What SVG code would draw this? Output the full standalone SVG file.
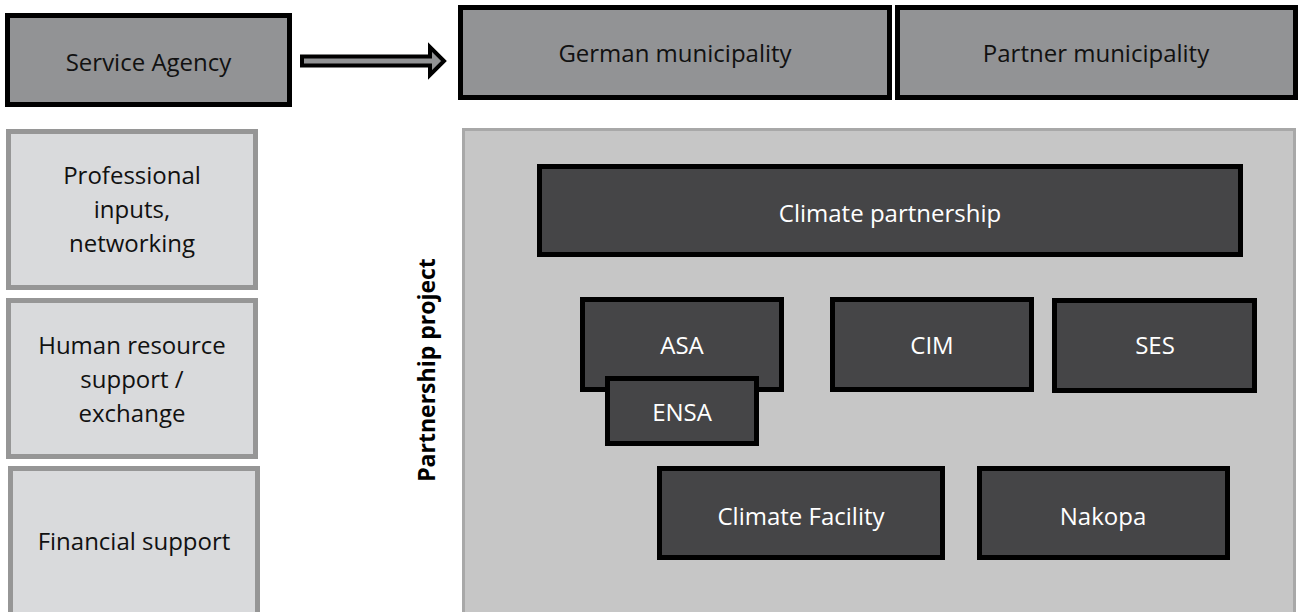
<svg xmlns="http://www.w3.org/2000/svg" width="1299" height="612" viewBox="0 0 1299 612">
<style>
text{font-family:"Open Sans","Liberation Sans",sans-serif;font-size:24px;text-anchor:middle}
.top rect{fill:#929395;stroke:#000;stroke-width:5}
.top text{fill:#111}
.side rect{fill:#d9dadc;stroke:#969696;stroke-width:5}
.side text{fill:#111}
.dark rect{fill:#454547;stroke:#000;stroke-width:5}
.dark text{fill:#fff}
</style>
<rect width="1299" height="612" fill="#fff"/>
<g id="panel">
<rect x="463.5" y="129.5" width="831" height="490" fill="#c6c6c6" stroke="#a8a8a8" stroke-width="3"/>
<text transform="translate(435,370) rotate(-90)" style="font-weight:bold;font-size:23px" fill="#000">Partnership project</text>
</g>
<g id="service-agency" class="top"><rect x="7.5" y="15.5" width="282" height="89"/><text x="148.5" y="71">Service Agency</text></g>
<g id="german-municipality" class="top"><rect x="460.5" y="7.5" width="429" height="90"/><text x="675" y="62">German municipality</text></g>
<g id="partner-municipality" class="top"><rect x="897.5" y="7.5" width="398" height="90"/><text x="1096" y="62">Partner municipality</text></g>
<g id="professional" class="side"><rect x="8.5" y="131.5" width="247" height="156"/><text x="132" y="184">Professional</text><text x="132" y="218">inputs,</text><text x="132" y="252">networking</text></g>
<g id="human-resource" class="side"><rect x="8.5" y="300.5" width="247" height="156"/><text x="132" y="354">Human resource</text><text x="132" y="388">support /</text><text x="132" y="422">exchange</text></g>
<g id="financial" class="side"><rect x="10.5" y="468.5" width="247" height="160"/><text x="134" y="550">Financial support</text></g>
<g id="climate-partnership" class="dark"><rect x="539.5" y="166.5" width="701" height="88"/><text x="890" y="222">Climate partnership</text></g>
<g id="asa" class="dark"><rect x="582.5" y="299.5" width="199" height="90"/><text x="682" y="354">ASA</text></g>
<g id="ensa" class="dark"><rect x="607.5" y="378.5" width="149" height="65"/><text x="682" y="421">ENSA</text></g>
<g id="cim" class="dark"><rect x="832.5" y="299.5" width="199" height="90"/><text x="932" y="354">CIM</text></g>
<g id="ses" class="dark"><rect x="1054.5" y="300.5" width="200" height="90"/><text x="1155" y="354">SES</text></g>
<g id="climate-facility" class="dark"><rect x="659.5" y="468.5" width="283" height="89"/><text x="801" y="525">Climate Facility</text></g>
<g id="nakopa" class="dark"><rect x="979.5" y="468.5" width="248" height="89"/><text x="1103" y="525">Nakopa</text></g>
<g id="connectors">
<polygon points="302,56.5 430,56.5 430,47 444,61 430,75 430,65.5 302,65.5" fill="#929395" stroke="#000" stroke-width="4" stroke-linejoin="miter"/>
</g>
</svg>
